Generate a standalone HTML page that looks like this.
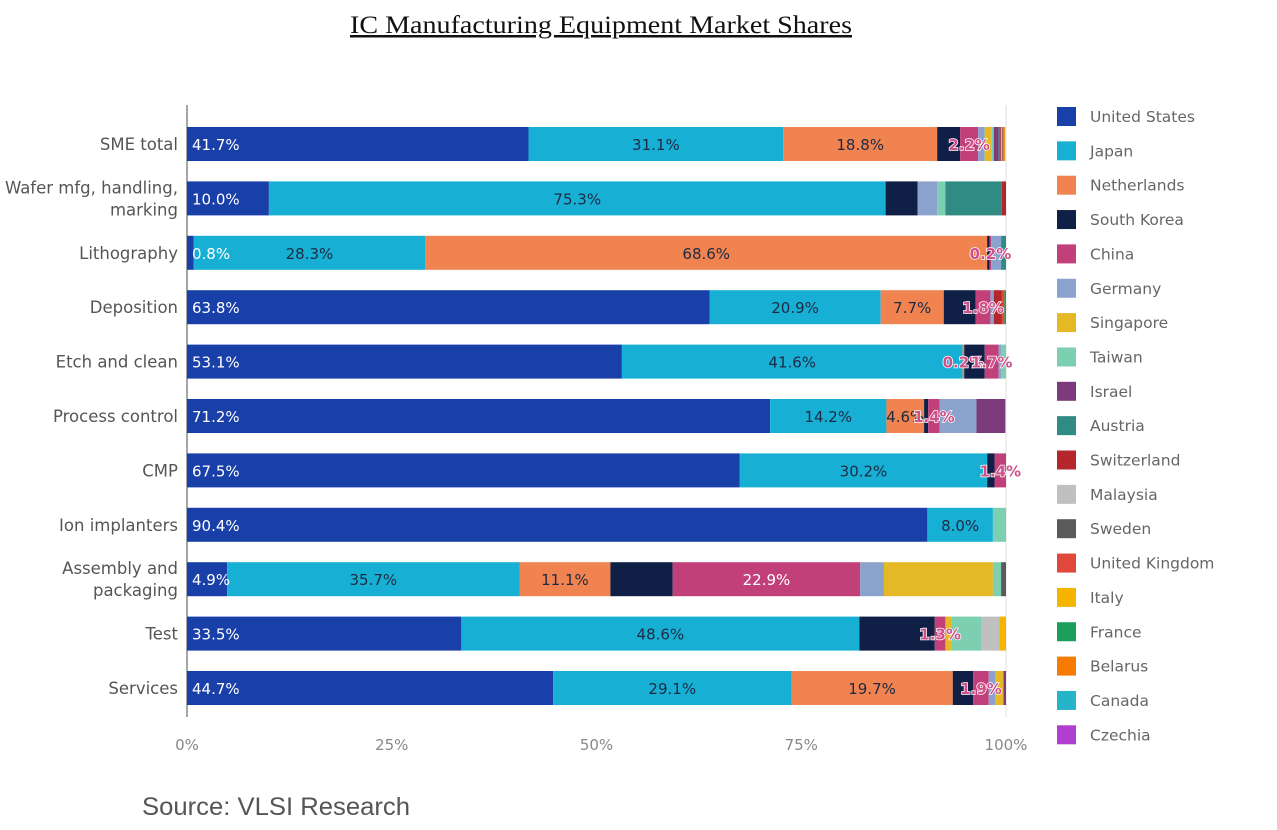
<!DOCTYPE html>
<html><head><meta charset="utf-8"><style>
body{margin:0;background:#fff;width:1277px;height:830px;overflow:hidden}
svg{display:block}
</style></head><body>
<svg id="c" width="1277" height="830" xmlns="http://www.w3.org/2000/svg">
<text x="350" y="33" textLength="502" lengthAdjust="spacingAndGlyphs" font-family="Liberation Serif, serif" font-size="25" fill="#111" text-decoration="underline">IC Manufacturing Equipment Market Shares</text>
<text x="142" y="815" textLength="268" lengthAdjust="spacingAndGlyphs" font-family="Liberation Sans, sans-serif" font-size="25" fill="#555">Source: VLSI Research</text>
<g id="plot"></g>
<g id="legend"></g>
</svg>
<script>
const categories=["SME total","Wafer mfg, handling,|marking","Lithography","Deposition","Etch and clean","Process control","CMP","Ion implanters","Assembly and|packaging","Test","Services"];
const countries=["United States","Japan","Netherlands","South Korea","China","Germany","Singapore","Taiwan","Israel","Austria","Switzerland","Malaysia","Sweden","United Kingdom","Italy","France","Belarus","Canada","Czechia"];
const colors=["#1840a8","#17b0d4","#f0834f","#0f1f45","#c2407a","#8aa2cc","#e5b825","#7ccfb0","#7b3a7a","#2f8b84","#b5262c","#c0c0c0","#5a5a5a","#e0483c","#f4b400","#1b9e5a","#f57c00","#26b4c8","#b03fd0"];
const shares=[
[41.7,31.1,18.8,2.8,2.2,0.8,0.8,0.3,0.6,0.2,0.1,0.1,0.1,0.1,0.1,0,0.1,0,0],
[10.0,75.3,0,3.9,0,2.4,0,1.0,0,6.9,0.5,0,0,0,0,0,0,0,0],
[0.8,28.3,68.6,0.3,0.2,1.2,0,0,0,0.6,0,0,0,0,0,0,0,0,0],
[63.8,20.9,7.7,3.9,1.8,0.4,0,0,0,0,1.0,0,0,0.3,0,0.2,0,0,0],
[53.1,41.6,0.2,2.5,1.7,0.3,0,0.6,0,0,0,0,0,0,0,0,0,0,0],
[71.2,14.2,4.6,0.5,1.4,4.5,0,0,3.5,0,0,0,0,0,0.1,0,0,0,0],
[67.5,30.2,0,0.9,1.4,0,0,0,0,0,0,0,0,0,0,0,0,0,0],
[90.4,8.0,0,0,0,0,0,1.6,0,0,0,0,0,0,0,0,0,0,0],
[4.9,35.7,11.1,7.6,22.9,2.9,13.3,1.0,0,0,0,0,0.6,0,0,0,0,0,0],
[33.5,48.6,0,9.2,1.3,0,0.7,3.7,0,0,0,2.2,0,0,0.8,0,0,0,0],
[44.7,29.1,19.7,2.5,1.9,0.8,1.0,0,0.3,0,0,0,0,0,0,0,0,0,0]];
const labelRows=[0,0,0,0,1,1,2,2,2,2,3,3,3,3,4,4,4,4,5,5,5,5,6,6,6,7,7,8,8,8,8,9,9,9,10,10,10,10];
const labelSeries=[0,1,2,4,0,1,0,1,2,4,0,1,2,4,0,1,2,4,0,1,2,4,0,1,4,0,1,0,1,2,4,0,1,4,0,1,2,4];
const ticks=[0,25,50,75,100];

const NS="http://www.w3.org/2000/svg";
const X0=187,X1=1006,Y0=144,DY=54.4,BH=34;
const xs=v=>X0+(X1-X0)*v/100;
const yc=i=>Y0+i*DY;
const plot=document.getElementById('plot');
function el(t,a,p){const e=document.createElementNS(NS,t);for(const k in a)e.setAttribute(k,a[k]);(p||plot).appendChild(e);return e;}
const F="DejaVu Sans, Liberation Sans, sans-serif";
const ax=el('line',{x1:X0,x2:X0,y1:105,y2:717,stroke:'#888','stroke-width':1.5});


const rl=el('line',{x1:X1,x2:X1,y1:105,y2:717,stroke:'#ddd','stroke-width':1});


ticks.forEach(t=>{
  const tx=el('text',{x:xs(t),y:750,'text-anchor':'middle','font-family':F,'font-size':15,fill:'#888'});
  tx.textContent=t+'%';
  
  
});
categories.forEach((c,i)=>{
  const parts=c.split('|');
  const lab=el('text',{x:178,'text-anchor':'end','font-family':F,'font-size':16.5,fill:'#555'});
  
  
  parts.forEach((p,j)=>{const ts=el('tspan',{x:178,y:yc(i)+6+(parts.length>1?(j?11:-11):0)},lab);ts.textContent=p;});
  let acc=0;
  shares[i].forEach((v,s)=>{
    if(v>0){
      const r=el('rect',{x:xs(acc),y:yc(i)-BH/2,width:xs(acc+v)-xs(acc),height:BH,fill:colors[s]});
      
      
    }
    acc+=v;
  });
});
labelRows.forEach((i,k)=>{
  const s=labelSeries[k];
  let acc=0;for(let q=0;q<s;q++)acc+=shares[i][q];
  const v=shares[i][s];
  let x,anchor;
  if(s===0){x=xs(acc)+5;anchor='start';}
  else {x=xs(acc+v/2);anchor='middle';}
  const a={x:x,y:yc(i)+6,'text-anchor':anchor,'font-family':F,'font-size':15,fill:'#1d2a44'};
  if(s===0)a.fill='#fff';
  if(s===4&&v>=5)a.fill='#fff';
  if((s===4&&v<5)||(s===2&&v<1)){a.fill='#d0508a';a.stroke='#fff';a['stroke-width']=1.5;a['paint-order']='stroke';a['font-weight']='bold';}
  const t=el('text',a);
  t.textContent=v.toFixed(1)+'%';
  
  
});
const lg=document.getElementById('legend');
countries.forEach((c,k)=>{
  const y=116+k*34.35;
  const r=el('rect',{x:1057,y:y-9,width:19,height:19,fill:colors[k]},lg);
  
  
  const t=el('text',{x:1090,y:y+6,'font-family':F,'font-size':15.5,fill:'#666'},lg);
  t.textContent=c;
  
  
});
</script>
</body></html>
